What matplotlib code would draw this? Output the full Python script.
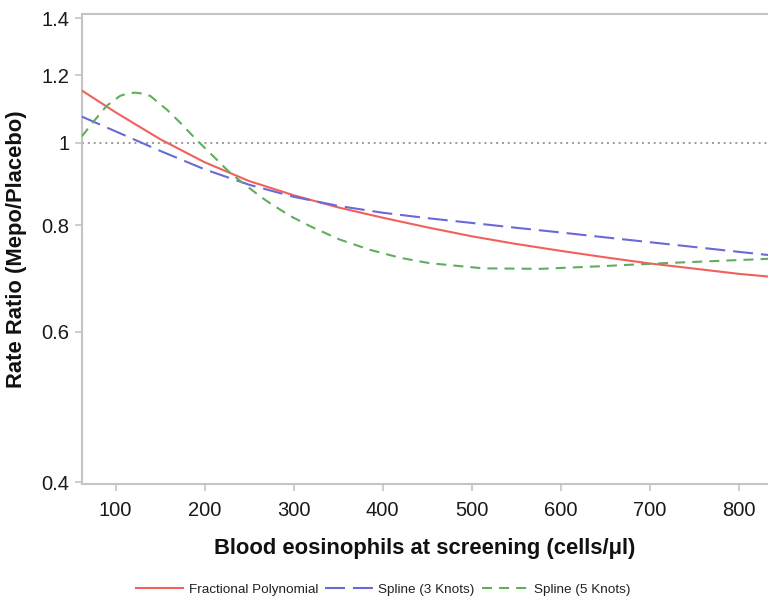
import matplotlib
matplotlib.use("Agg")
import matplotlib.pyplot as plt
from matplotlib.ticker import FixedLocator, NullLocator

plt.rcParams['font.family'] = ['Liberation Sans', 'DejaVu Sans']

# Data
grid_x = [62, 100, 150, 200, 250, 300, 350, 400, 450, 500, 550, 600, 650, 700, 750, 800, 833]
frac_poly = [1.152, 1.086, 1.010, 0.949, 0.902, 0.868, 0.840, 0.817, 0.796, 0.777, 0.761,
             0.747, 0.734, 0.722, 0.712, 0.702, 0.697]
spline3 = [1.0735, 1.0315, 0.9787, 0.931, 0.893, 0.8645, 0.8435, 0.828, 0.816, 0.8055, 0.795,
           0.785, 0.7747, 0.7647, 0.7548, 0.745, 0.7387]

s5_x = [62, 75, 90, 105, 113, 122, 131, 139, 158, 173, 191, 210, 229, 248, 262, 274, 296,
        319, 352, 386, 420, 453, 513, 577, 644, 708, 833]
spline5 = [1.017, 1.058, 1.105, 1.135, 1.142, 1.145, 1.142, 1.135, 1.093, 1.055, 1.008, 0.964,
           0.9215, 0.889, 0.866, 0.849, 0.821, 0.798, 0.770, 0.749, 0.733, 0.7225, 0.7125,
           0.7115, 0.7165, 0.722, 0.731]

xticks = [100, 200, 300, 400, 500, 600, 700, 800]
yticks = [0.4, 0.6, 0.8, 1.0, 1.2, 1.4]
ytick_labels = ["0.4", "0.6", "0.8", "1", "1.2", "1.4"]

fig = plt.figure(figsize=(7.68, 5.99), dpi=100)
ax = fig.add_axes([81.7 / 768, 1 - 484 / 599, 1 - 81.7 / 768, (484 - 14) / 599])

ax.axhline(1.0, color="#9a9a9a", lw=1.4, ls=(0, (1, 2)), zorder=1)

ax.plot(grid_x, frac_poly, color="#f2605c", lw=1.5, label="Fractional Polynomial", zorder=3)
ax.plot(grid_x, spline3, color="#6a6ad6", lw=1.5, dashes=(9.6, 3.8), label="Spline (3 Knots)", zorder=3)
ax.plot(s5_x, spline5, color="#62ac60", lw=1.5, dashes=(4.8, 3.4), label="Spline (5 Knots)", zorder=3)

ax.set_yscale("log")
ax.set_xlim(62, 833)
ax.set_ylim(0.398, 1.416)
ax.yaxis.set_major_locator(FixedLocator(yticks))
ax.yaxis.set_minor_locator(NullLocator())
ax.set_yticklabels(ytick_labels)
ax.set_xticks(xticks)
ax.set_xticklabels([str(t) for t in xticks])

for s in ["left", "bottom", "top"]:
    ax.spines[s].set_color("#c4c4c4")
    ax.spines[s].set_linewidth(1.5)
ax.spines["right"].set_visible(False)
ax.tick_params(axis="both", colors="#c4c4c4", labelcolor="#1a1a1a", labelsize=14.5,
               length=5, width=1.2, direction="out")
ax.tick_params(axis="x", pad=7)
ax.tick_params(axis="y", pad=4)

ax.set_xlabel("Blood eosinophils at screening (cells/\u03bcl)", fontsize=15.8, fontweight="bold",
              labelpad=13, color="#111111")
ax.set_ylabel("Rate Ratio (Mepo/Placebo)", fontsize=15.8, fontweight="bold", labelpad=10,
              color="#111111")

leg = fig.legend(loc="center", bbox_to_anchor=(0.5 * (131 + 636) / 768, 1 - 590 / 599), ncol=3,
                 frameon=False, fontsize=9.7, handlelength=3.5, handletextpad=0.4,
                 columnspacing=0.55, borderaxespad=0)
for t in leg.get_texts():
    t.set_color("#222222")

fig.savefig("out.png", dpi=100)
